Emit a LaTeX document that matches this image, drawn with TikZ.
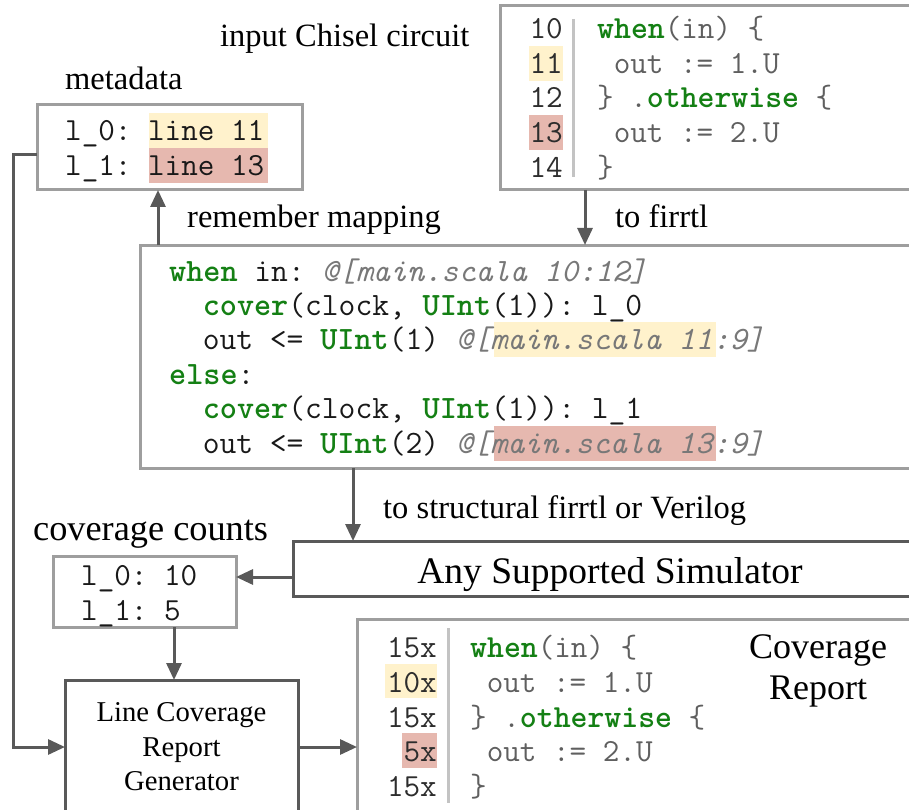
\documentclass[tikz,border=0pt]{standalone}
\usepackage{fontspec}
\setmainfont{Liberation Serif}
\usetikzlibrary{arrows.meta}
\definecolor{lbox}{RGB}{158,158,158}
\definecolor{dbox}{RGB}{89,89,89}
\definecolor{hly}{RGB}{255,242,204}
\definecolor{hlr}{RGB}{230,184,175}
\definecolor{kw}{RGB}{20,128,20}
\definecolor{cgray}{RGB}{95,95,95}
\definecolor{ngray}{RGB}{45,45,45}
\definecolor{igray}{RGB}{120,120,120}
\definecolor{sepc}{RGB}{195,195,195}
\newcommand{\kwd}[1]{{\bfseries\color{kw}#1}}
\newcommand{\itg}[1]{{\itshape\color{igray}#1}}
\tikzset{
  lightbox/.style={draw=lbox, line width=3pt, anchor=north west, inner sep=0pt, outer sep=0pt},
  darkbox/.style={draw=dbox, line width=3pt, anchor=north west, inner sep=0pt, outer sep=0pt},
  arr/.style={draw=dbox, line width=3pt, -{Triangle[length=17pt,width=15pt]}},
  lab/.style={anchor=base west, inner sep=0pt, font=\fontsize{32.5}{36}\selectfont},
  codeln/.style={anchor=base west, inner sep=0pt, text=cgray, font=\ttfamily\frenchspacing\fontsize{32.2}{34}\selectfont},
  fircode/.style={anchor=base west, inner sep=0pt, text=black!90, font=\ttfamily\frenchspacing\fontsize{32.6}{34}\selectfont},
  numln/.style={anchor=base east, inner sep=0pt, text=ngray, font=\ttfamily\frenchspacing\fontsize{32.2}{34}\selectfont},
  dataln/.style={anchor=base west, inner sep=0pt, text=black!90, font=\ttfamily\frenchspacing\fontsize{32.2}{34}\selectfont},
  sepline/.style={draw=sepc, line width=3pt},
}
\begin{document}
\begin{tikzpicture}[x=1pt,y=-1pt]
\useasboundingbox (0,0) rectangle (909,810);
\begin{scope}
\clip (0,0) rectangle (909,810);
% boxes
\node[lightbox, minimum width=440pt, minimum height=184pt] (top) at (500,6) {};
\node[lightbox, minimum width=265pt, minimum height=85pt] (meta) at (37,105) {};
\node[lightbox, minimum width=800pt, minimum height=223pt] (fir) at (140,245) {};
\node[darkbox, minimum width=640pt, minimum height=55pt] (sim) at (293,541) {};
\node[lightbox, minimum width=183pt, minimum height=71pt] (cnt) at (53,556) {};
\node[darkbox, minimum width=233pt, minimum height=170pt] (lcrg) at (65,680) {};
\node[lightbox, minimum width=580pt, minimum height=230pt] (rep) at (357,619) {};

% highlights
\fill[hly] (529,46) rectangle (563,81);
\fill[hlr] (529,115) rectangle (563,150);
\fill[hly] (149,113) rectangle (268,148);
\fill[hlr] (149,148) rectangle (268,183);
\fill[hly] (494,322) rectangle (716,357);
\fill[hlr] (494,426) rectangle (716,461);
\fill[hly] (385,664) rectangle (437,698);
\fill[hlr] (402,733) rectangle (437,768);

% separators
\draw[sepline] (573,19) -- (573,177);
\draw[sepline] (448,628) -- (448,803);

% top code box
\node[numln] (t10) at (563,38.5) {10};
\node[numln] (t11) at (563,73.3) {11};
\node[numln] (t12) at (563,108) {12};
\node[numln] (t13) at (563,142.8) {13};
\node[numln] (t14) at (563,177.5) {14};
\node[codeln] (tc1) at (597,38.5) {\kwd{when}(in) \{};
\node[codeln] (tc2) at (597,73.3) {\hphantom{0}out := 1.U};
\node[codeln] (tc3) at (597,108) {\} .\kwd{otherwise} \{};
\node[codeln] (tc4) at (597,142.8) {\hphantom{0}out := 2.U};
\node[codeln] (tc5) at (597,177.5) {\}};

% metadata
\node[dataln] (m1) at (65,141) {l\_0: line 11};
\node[dataln] (m2) at (65,176) {l\_1: line 13};

% firrtl
\node[fircode] (f1) at (169,281) {\kwd{when} in: \itg{@[main.scala 10:12]}};
\node[fircode] (f2) at (169,315.4) {\hphantom{00}\kwd{cover}(clock, \kwd{UInt}(1)): l\_0};
\node[fircode] (f3) at (169,349.8) {\hphantom{00}out <= \kwd{UInt}(1) \itg{@[main.scala 11:9]}};
\node[fircode] (f4) at (169,384.2) {\kwd{else}:};
\node[fircode] (f5) at (169,418.6) {\hphantom{00}\kwd{cover}(clock, \kwd{UInt}(1)): l\_1};
\node[fircode] (f6) at (169,453) {\hphantom{00}out <= \kwd{UInt}(2) \itg{@[main.scala 13:9]}};

% counts
\node[dataln] (c1) at (81,585) {l\_0: 10};
\node[dataln] (c2) at (81,620) {l\_1: 5};

% report
\node[numln] (r1) at (437,657) {15x};
\node[numln] (r2) at (437,692) {10x};
\node[numln] (r3) at (437,727) {15x};
\node[numln] (r4) at (437,761) {5x};
\node[numln] (r5) at (437,796) {15x};
\node[codeln] (rc1) at (470,657) {\kwd{when}(in) \{};
\node[codeln] (rc2) at (470,692) {\hphantom{0}out := 1.U};
\node[codeln] (rc3) at (470,727) {\} .\kwd{otherwise} \{};
\node[codeln] (rc4) at (470,761) {\hphantom{0}out := 2.U};
\node[codeln] (rc5) at (470,796) {\}};

% labels
\node[lab] (l1) at (220,47) {input Chisel circuit};
\node[lab] (l2) at (65,90) {metadata};
\node[lab] (l3) at (187,227) {remember mapping};
\node[lab] (l4) at (615,227) {to firrtl};
\node[lab] (l5) at (383,518) {to structural firrtl or Verilog};
\node[lab, font=\fontsize{36.3}{40}\selectfont] (l6) at (33,540) {coverage counts};
\node[anchor=base, inner sep=0pt, font=\fontsize{37.5}{40}\selectfont] (simt) at (610,583) {Any Supported Simulator};
\node[anchor=base, inner sep=0pt, font=\fontsize{28.7}{34.5}\selectfont, align=center] (lct) at (181.5,790.7) {Line Coverage\\Report\\Generator};
\node[anchor=base, inner sep=0pt, font=\fontsize{36}{41}\selectfont, align=center] (crt) at (818,699) {Coverage\\Report};

% arrows
\coordinate (a1) at (585,0);
\coordinate (a2) at (158,0);
\coordinate (a3) at (353,0);
\coordinate (a4) at (0,577);
\coordinate (a5) at (174,0);
\coordinate (a6) at (0,747);
\coordinate (fb1) at (13,155);
\coordinate (fb2) at (13,747);
\draw[arr] (top.south -| a1) -- (fir.north -| a1);
\draw[arr] (fir.north -| a2) -- (meta.south -| a2);
\draw[arr] (fir.south -| a3) -- (sim.north -| a3);
\draw[arr] (sim.west |- a4) -- (cnt.east |- a4);
\draw[arr] (cnt.south -| a5) -- (lcrg.north -| a5);
\draw[arr] (lcrg.east |- a6) -- (rep.west |- a6);
\draw[arr] (meta.west |- fb1) -- (fb1) -- (fb2) -- (lcrg.west |- fb2);
\end{scope}
\end{tikzpicture}
\end{document}
